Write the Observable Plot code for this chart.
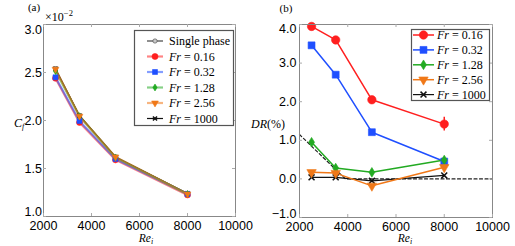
<!DOCTYPE html>
<html><head><meta charset="utf-8">
<script src="https://cdn.jsdelivr.net/npm/d3@7"></script>
<script src="https://cdn.jsdelivr.net/npm/@observablehq/plot@0.6"></script>
<style>
body{margin:0;background:#fff;}
#wrap{position:relative;width:515px;height:246px;overflow:hidden;font-family:"Liberation Serif",serif;color:#000;}
.lbl{position:absolute;transform:translate(-50%,-50%);white-space:nowrap;font-size:12px;line-height:1;}
.lbl sub{font-size:8px;vertical-align:-2px;line-height:0;}
.lbl sup{font-size:8.5px;vertical-align:5px;line-height:0;}
.leg{position:absolute;transform:translateY(-50%);white-space:nowrap;font-size:12px;line-height:1;font-family:"Liberation Serif",serif;}
</style></head><body><div id="wrap"></div>
<script>
// ---------- data ----------
const reynolds = [2500, 3500, 5000, 8000];
const seriesNames = ["Single phase", "0.16", "0.32", "1.28", "2.56", "1000"];
// friction coefficient C_f (x 10^-2)
const cfSingle = [2.54, 2.05, 1.62, 1.24];
const cf016 = [2.44, 1.98, 1.59, 1.225];
const cf032 = [2.45, 1.995, 1.60, 1.235];
const cf128 = [2.515, 2.045, 1.615, 1.235];
const cf256 = [2.535, 2.045, 1.62, 1.235];
const cf1000 = [2.54, 2.05, 1.62, 1.24];
// drag reduction DR (%)
const dr016 = [3.95, 3.60, 2.05, 1.42];
const dr016Err = [0, 0, 0, 0.18];
const dr032 = [3.46, 2.70, 1.21, 0.45];
const dr128 = [0.95, 0.28, 0.17, 0.49];
const dr256 = [0.17, 0.15, -0.18, 0.30];
const dr1000 = [0.04, 0.04, -0.05, 0.09];
const refRe = [2000, 3900, 10000];
const refDR = [1.15, 0, 0];
// ticks
const xTicks = [2000, 4000, 6000, 8000, 10000];
const cfTicks = [1.0, 1.5, 2.0, 2.5, 3.0];
const drTicks = [-1.0, 0.0, 1.0, 2.0, 3.0, 4.0];

// ---------- styles ----------
const thinDiamond = {draw(ctx, size){const r = Math.sqrt(size)*0.62, w = r*0.62;
  ctx.moveTo(0,-r); ctx.lineTo(w,0); ctx.lineTo(0,r); ctx.lineTo(-w,0); ctx.closePath();}};
const styles = {
  "Single phase": {color:"#444", fill:"#c8c8c8", symbol:d3.symbolCircle, r:3, rot:0},
  "0.16": {color:"#ff1f1f", fill:"#ff1f1f", symbol:d3.symbolCircle, r:4.2, rot:0},
  "0.32": {color:"#1f4fff", fill:"#1f4fff", symbol:d3.symbolSquare, r:3.9, rot:0},
  "1.28": {color:"#22aa22", fill:"#22aa22", symbol:thinDiamond, r:4.4, rot:0},
  "2.56": {color:"#f07818", fill:"#f07818", symbol:d3.symbolTriangle, r:3.5, rot:180},
  "1000": {color:"#111", fill:"none", symbol:d3.symbolTimes, r:2.8, rot:0}
};
const leftScale = 0.72;
const rows = (vals) => reynolds.map((re, i) => ({re, v: vals[i]}));
const cfData = {"Single phase":cfSingle, "0.16":cf016, "0.32":cf032, "1.28":cf128, "2.56":cf256, "1000":cf1000};
const drData = {"0.16":dr016, "0.32":dr032, "1.28":dr128, "2.56":dr256, "1000":dr1000};

const wrap = document.getElementById("wrap");
const fmtX = d3.format("d"), fmtY = d3.format(".1f");

function lineStyle(name, left) {
  if (name === "Single phase" || name === "1000") return {strokeWidth: 1.2, strokeOpacity: 1};
  return left ? {strokeWidth: 2.2, strokeOpacity: 0.55} : {strokeWidth: 1.5, strokeOpacity: 1};
}

function panel({width, ml, mr, mt, mb, yDomain, yTicks, yPad, endShift, data, left, extra, x0}) {
  const innerW = width - ml - mr, innerH = 246 - mt - mb;
  const marks = [];
  marks.push(...(extra || []));
  for (const name of Object.keys(data)) {
    const s = styles[name];
    marks.push(Plot.line(rows(data[name]), {x: "re", y: "v", stroke: s.color, ...lineStyle(name, left)}));
  }
  for (const name of Object.keys(data)) {
    const s = styles[name];
    const r = left ? s.r * leftScale : s.r;
    marks.push(Plot.dot(rows(data[name]), {x: "re", y: "v", symbol: s.symbol, r, rotate: s.rot,
      fill: s.fill, stroke: s.color, strokeWidth: name === "1000" ? 1.5 : 0.6}));
  }
  const mid = yTicks.slice(1, -1);
  marks.push(
    Plot.frame({stroke: "#888"}),
    Plot.tickX(xTicks, {x: d => d, stroke: "#aaa", insetTop: innerH - 3}),
    Plot.tickX(xTicks, {x: d => d, stroke: "#aaa", insetBottom: innerH - 3}),
    Plot.tickY(yTicks, {y: d => d, stroke: "#aaa", insetRight: innerW - 3}),
    Plot.tickY(yTicks, {y: d => d, stroke: "#aaa", insetLeft: innerW - 3}),
    Plot.axisX(xTicks, {anchor: "bottom", tickSize: 0, tickPadding: 5, tickFormat: fmtX, label: null}),
    Plot.axisY(mid, {anchor: "left", tickSize: 0, tickPadding: yPad, tickFormat: fmtY, label: null}),
    Plot.axisY([yTicks[0]], {anchor: "left", tickSize: 0, tickPadding: yPad, tickFormat: fmtY, label: null, dy: -endShift[0]}),
    Plot.axisY([yTicks[yTicks.length - 1]], {anchor: "left", tickSize: 0, tickPadding: yPad, tickFormat: fmtY, label: null, dy: endShift[1]})
  );
  const svg = Plot.plot({
    width, height: 246, marginLeft: ml, marginRight: mr, marginTop: mt, marginBottom: mb,
    x: {domain: [2000, 10000]}, y: {domain: yDomain},
    style: {fontFamily: "'Liberation Sans', Arial, sans-serif", fontSize: "12.5px", color: "#000", background: "transparent", overflow: "visible"},
    marks
  });
  svg.style.position = "absolute";
  svg.style.left = x0 + "px";
  svg.style.top = "0px";
  wrap.appendChild(svg);
}

panel({width: 258, ml: 43, mr: 23, mt: 24, mb: 30, yDomain: [1, 3], yTicks: cfTicks, yPad: 1.5,
  endShift: [4.5, 5.5], data: cfData, left: true, x0: 0});

const refRows = refRe.map((re, i) => ({re, v: refDR[i]}));
const errRows = reynolds.map((re, i) => ({re, lo: dr016[i] - dr016Err[i], hi: dr016[i] + dr016Err[i]})).filter((d, i) => dr016Err[i] > 0);
panel({width: 257, ml: 41, mr: 23, mt: 24, mb: 29, yDomain: [-1, 4], yTicks: drTicks, yPad: 3,
  endShift: [3.5, 4], data: drData, left: false, x0: 258,
  extra: [
    Plot.line(refRows, {x: "re", y: "v", stroke: "#222", strokeWidth: 1.2, strokeDasharray: "3,2.5"}),
    Plot.ruleX(errRows, {x: "re", y1: "lo", y2: "hi", stroke: styles["0.16"].color, strokeWidth: 1.5})
  ]});

// ---------- texts ----------
function label(html, x, y, extraStyle, cls) {
  const d = document.createElement("div");
  d.className = cls || "lbl"; d.innerHTML = html;
  d.style.left = x + "px"; d.style.top = y + "px";
  if (extraStyle) Object.assign(d.style, extraStyle);
  wrap.appendChild(d);
  return d;
}
label("(a)", 34, 7, {fontSize: "11px"});
label("(b)", 286, 7.5, {fontSize: "11px"});
label("&times;10<sup>&minus;2</sup>", 59, 17, {fontSize: "12px"});
label("<i>C</i><sub><i>f</i></sub>", 19, 123);
label("<i>Re</i><sub><i>i</i></sub>", 146, 239, {fontSize: "11.5px", lineHeight: "0.85"});
label("<i>Re</i><sub><i>i</i></sub>", 405, 239, {fontSize: "11.5px", lineHeight: "0.85"});
label("<i>DR</i>(%)", 268, 124);

// ---------- legends ----------
const lsvg = d3.select(wrap).append("svg").attr("width", 515).attr("height", 246)
  .style("position", "absolute").style("left", 0).style("top", 0).style("pointer-events", "none");
function legend(names, box, rowY0, rowStep, lineX0, lineX1, textX, left) {
  lsvg.append("rect").attr("x", box[0]).attr("y", box[1]).attr("width", box[2]).attr("height", box[3])
    .attr("fill", "#fff").attr("stroke", "#555").attr("stroke-width", 1.2);
  names.forEach((name, i) => {
    const s = styles[name], y = rowY0 + i * rowStep, cx = (lineX0 + lineX1) / 2;
    const ls = lineStyle(name, left);
    lsvg.append("line").attr("x1", lineX0).attr("x2", lineX1).attr("y1", y).attr("y2", y)
      .attr("stroke", s.color).attr("stroke-width", ls.strokeWidth).attr("stroke-opacity", ls.strokeOpacity);
    const r = left ? s.r * leftScale : s.r;
    lsvg.append("path").attr("d", d3.symbol(s.symbol, Math.PI * r * r)())
      .attr("transform", `translate(${cx},${y}) rotate(${s.rot})`)
      .attr("fill", s.fill).attr("stroke", s.color).attr("stroke-width", name === "1000" ? 1.5 : 0.6);
    const html = name === "Single phase" ? name : "<i>Fr</i> = " + name;
    label(html, textX, y, {zIndex: 2}, "leg");
  });
}
legend(seriesNames, [134.5, 30.5, 99, 95], 41, 15.5, 147, 163, 169, true);
legend(seriesNames.slice(1), [411.5, 29.5, 78, 71], 35, 14.9, 413, 434, 437, false);
</script></body></html>
